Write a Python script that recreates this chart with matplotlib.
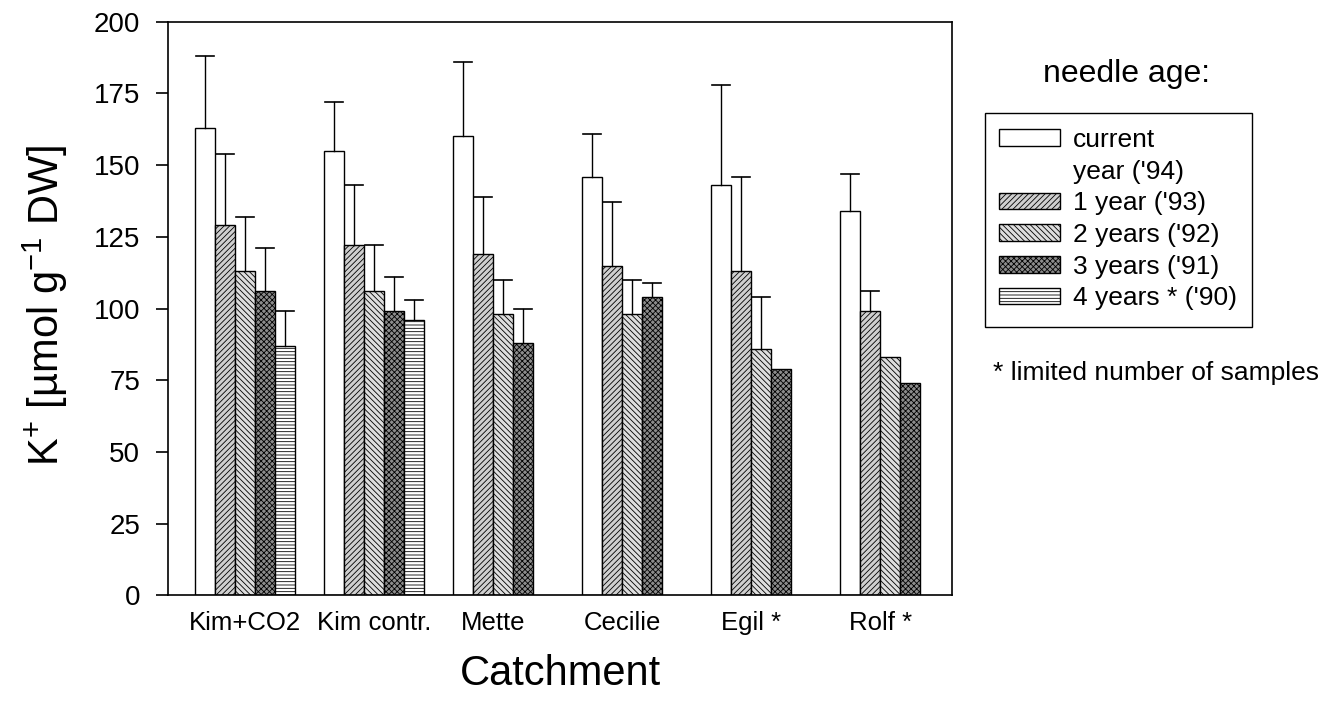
import numpy as np
import matplotlib
matplotlib.use('Agg')
import matplotlib.pyplot as plt
from matplotlib.patches import Patch, Rectangle

plt.rcParams['font.family'] = ['Liberation Sans', 'DejaVu Sans']
plt.rcParams['mathtext.fontset'] = 'custom'
plt.rcParams['mathtext.rm'] = 'Liberation Sans'
plt.rcParams['mathtext.it'] = 'Liberation Sans'
plt.rcParams['hatch.linewidth'] = 0.6

# K+ content per catchment and needle age (mean and upper error)
catchments = ['Kim+CO2', 'Kim contr.', 'Mette', 'Cecilie', 'Egil *', 'Rolf *']
ages = ["current\nyear ('94)", "1 year ('93)", "2 years ('92)", "3 years ('91)", "4 years * ('90)"]

cur = [163, 155, 160, 146, 143, 134]
y1 = [129, 122, 119, 115, 113, 99]
y2 = [113, 106, 98, 98, 86, 83]
y3 = [106, 99, 88, 104, 79, 74]
y4 = [87, 96, np.nan, np.nan, np.nan, np.nan]

cur_err = [25, 17, 26, 15, 35, 13]
y1_err = [25, 21, 20, 22, 33, 7]
y2_err = [19, 16, 12, 12, 18, 0]
y3_err = [15, 12, 12, 5, 0, 0]
y4_err = [12, 7, 0, 0, 0, 0]

series = [cur, y1, y2, y3, y4]
errors = [cur_err, y1_err, y2_err, y3_err, y4_err]
faces = ['white', '#cfcfcf', '#dedede', '#8c8c8c', 'white']
hatches = [None, '//////', '\\\\\\\\\\\\', 'xxxxxx', '-----']

fig = plt.figure(figsize=(13.38, 7.02), dpi=100)
ax = fig.add_axes([0.1256, 0.152, 0.586, 0.817])

w = 0.155
x = np.arange(len(catchments))
bars = []
for j, (vals, err) in enumerate(zip(series, errors)):
    xp = x + (j - 2) * w
    vals = np.array(vals, dtype=float)
    b = ax.bar(xp, vals, width=w, color=faces[j], edgecolor='black',
               linewidth=1.0, hatch=hatches[j], zorder=2)
    bars.append(b)
    for xi, v, e in zip(xp, vals, err):
        if np.isnan(v) or e == 0:
            continue
        ax.plot([xi, xi], [v, v + e], color='black', lw=1.0, zorder=3)
        ax.plot([xi - 0.07, xi + 0.07], [v + e, v + e], color='black', lw=1.2, zorder=3)

# label each catchment under the bars it actually has
ticks = []
for i in range(len(catchments)):
    present = [(j - 2) * w for j in range(5) if not np.isnan(series[j][i])]
    ticks.append(i + np.mean(present))
ax.set_xticks(ticks)
ax.set_xticklabels(catchments, fontsize=18.5)
ax.tick_params(axis='x', length=0, pad=11)

ax.set_xlim(-0.6, 5.48)
ax.set_ylim(0, 200)
ax.set_yticks(np.arange(0, 201, 25))
ax.tick_params(axis='y', labelsize=20, length=9, width=1.2, direction='out', pad=11)
for s in ax.spines.values():
    s.set_linewidth(1.2)

ax.set_xlabel('Catchment', fontsize=30, labelpad=14)
ax.set_ylabel(r'K$^{+}$ [µmol g$^{-1}$ DW]', fontsize=30)
ax.yaxis.set_label_coords(-0.125, 0.505)

# legend: the two-line first label gets its handle on the first line only
handles, labels = [], []
for b, lab in zip(bars, ages):
    parts = lab.split('\n')
    handles.append(b.patches[0])
    labels.append(parts[0])
    for extra in parts[1:]:
        handles.append(Patch(facecolor='none', edgecolor='none'))
        labels.append(extra)

fig.text(0.842, 0.883, 'needle age:', fontsize=23, ha='center', va='baseline')
leg = fig.legend(handles, labels, loc='upper left', bbox_to_anchor=(0.7466, 0.8175),
                 fontsize=19, frameon=False, handlelength=2.3, handleheight=0.6,
                 labelspacing=0.29, borderpad=0, handletextpad=0.5, borderaxespad=0)
fig.patches.append(Rectangle((0.7362, 0.534), 0.1995, 0.3055, transform=fig.transFigure,
                             fill=False, edgecolor='black', linewidth=1.0))
fig.text(0.742, 0.459, '* limited number of samples', fontsize=19, va='baseline')

fig.savefig('out.png', dpi=100)
